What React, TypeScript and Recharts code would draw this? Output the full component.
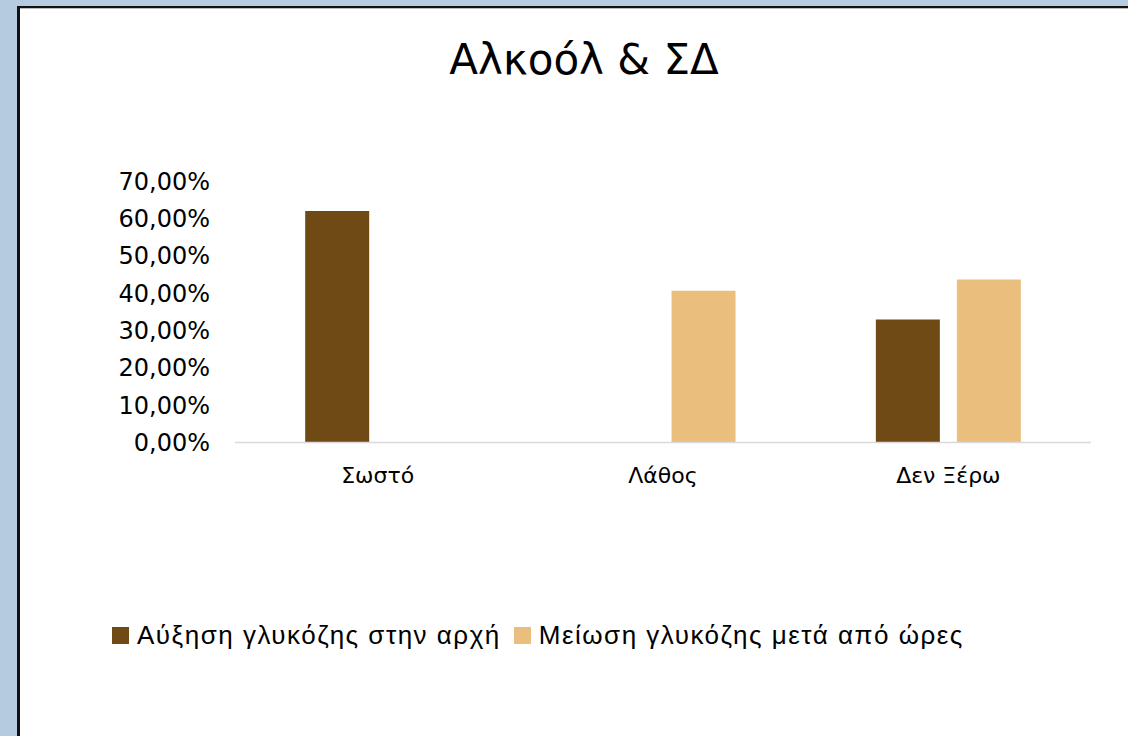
import * as React from 'react'
import { Bar, BarChart, Legend, XAxis, YAxis } from 'recharts'

const categories = ['Σωστό', 'Λάθος', 'Δεν Ξέρω']
const increaseAtStart = [0.62, 0, 0.329]
const decreaseAfterHours = [0, 0.406, 0.436]
const yTicks = [0, 0.1, 0.2, 0.3, 0.4, 0.5, 0.6, 0.7]

const SERIES = [
  { key: 'increase', name: 'Αύξηση γλυκόζης στην αρχή', fill: '#704A15' },
  { key: 'decrease', name: 'Μείωση γλυκόζης μετά από ώρες', fill: '#EABF7E' },
]

const data = categories.map((name, i) => ({
  name,
  increase: increaseAtStart[i],
  decrease: decreaseAfterHours[i],
}))

const formatPercent = (v: number) => (v * 100).toFixed(2).replace('.', ',') + '%'

const renderLegend = (props: any) => (
  <div
    style={{
      display: 'flex',
      alignItems: 'center',
      fontFamily: '"Liberation Sans", Arial, sans-serif',
      fontSize: 26,
      letterSpacing: 1.5,
      lineHeight: '30px',
      color: '#000',
    }}
  >
    {(props.payload || []).map((entry: any) => (
      <span
        key={entry.value}
        style={{ display: 'flex', alignItems: 'center', marginRight: 13 }}
      >
        <span
          style={{
            display: 'inline-block',
            width: 17,
            height: 17,
            background: entry.color,
            marginRight: 8,
          }}
        />
        {entry.value}
      </span>
    ))}
  </div>
)

export default function App() {
  return (
    <div
      style={{
        position: 'absolute',
        left: 0,
        top: 0,
        width: 1128,
        height: 736,
        overflow: 'hidden',
        background: '#B4CBE0',
      }}
    >
      <div
        style={{
          position: 'absolute',
          left: 17,
          top: 6,
          width: 1200,
          height: 800,
          background: '#fff',
          borderTop: '2px solid #111',
          borderLeft: '3px solid #111',
          boxShadow: 'inset 0 1px 0 #bbb',
        }}
      />
      <div
        style={{
          position: 'absolute',
          left: 0,
          width: 1168,
          top: 30,
          textAlign: 'center',
          fontFamily: '"DejaVu Sans", Verdana, sans-serif',
          fontSize: 42,
          lineHeight: '60px',
          color: '#000',
        }}
      >
        Αλκοόλ &amp; ΣΔ
      </div>
      <div style={{ position: 'absolute', left: 0, top: 0 }}>
        <BarChart
          width={1128}
          height={736}
          data={data}
          margin={{ top: 181, right: 37, left: 135, bottom: 253.5 }}
          barCategoryGap="24.6%"
          barGap={17}
        >
          <XAxis
            dataKey="name"
            height={40}
            axisLine={{ stroke: '#D9D9D9', strokeWidth: 1.5 }}
            tickLine={false}
            tickSize={0}
            tickMargin={25}
            tick={{
              fill: '#000',
              fontSize: 22,
              fontFamily: '"DejaVu Sans", Verdana, sans-serif',
            }}
          />
          <YAxis
            width={100}
            domain={[0, 0.7]}
            ticks={yTicks}
            tickFormatter={formatPercent}
            axisLine={false}
            tickLine={false}
            tickSize={0}
            tickMargin={25}
            tick={{
              fill: '#000',
              fontSize: 24,
              fontFamily: '"DejaVu Sans", Verdana, sans-serif',
            }}
          />
          <Legend
            verticalAlign="middle"
            align="center"
            layout="horizontal"
            content={renderLegend}
            wrapperStyle={{ top: 620, left: 112, width: 1000 }}
          />
          {SERIES.map((s) => (
            <Bar
              key={s.key}
              dataKey={s.key}
              name={s.name}
              fill={s.fill}
              isAnimationActive={false}
            />
          ))}
        </BarChart>
      </div>
    </div>
  )
}
